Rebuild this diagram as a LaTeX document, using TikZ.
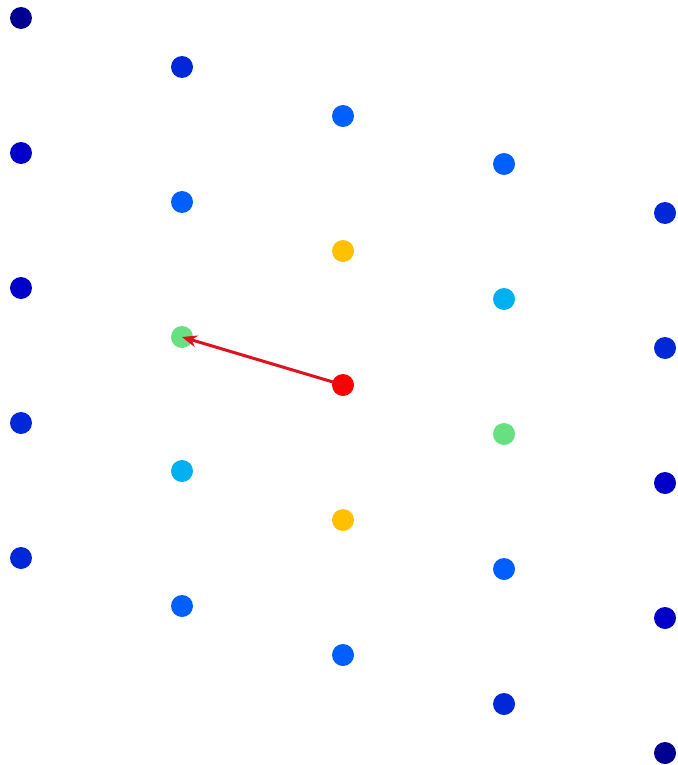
\documentclass[tikz,border=0pt]{standalone}
\usetikzlibrary{arrows.meta}
\definecolor{cnavy}{HTML}{000090}
\definecolor{cdeep}{HTML}{0000C8}
\definecolor{cmid}{HTML}{0028D8}
\definecolor{clight}{HTML}{0060FF}
\definecolor{ccyan}{HTML}{00B0F0}
\definecolor{cgreen}{HTML}{66E080}
\definecolor{cyellow}{HTML}{FFC000}
\definecolor{cred}{HTML}{FF0000}
\definecolor{carrow}{HTML}{E0101C}
\begin{document}
\begin{tikzpicture}[x=1pt,y=-1pt,
  dot/.style={circle,inner sep=0pt,minimum size=22pt,fill=#1,draw=none}]
\useasboundingbox (0,0) rectangle (677,765);
% column 0
\node[dot=cnavy] (a0) at (21,18) {};
\node[dot=cdeep] (a1) at (21,153) {};
\node[dot=cdeep] (a2) at (21,288) {};
\node[dot=cmid] (a3) at (21,423) {};
\node[dot=cmid] (a4) at (21,558) {};
% column 1
\node[dot=cmid] (b0) at (182,67) {};
\node[dot=clight] (b1) at (182,202) {};
\node[dot=cgreen] (b2) at (182,337) {};
\node[dot=ccyan] (b3) at (182,471) {};
\node[dot=clight] (b4) at (182,606) {};
% column 2
\node[dot=clight] (c0) at (343,116) {};
\node[dot=cyellow] (c1) at (343,251) {};
\node[dot=cred] (c2) at (343,385) {};
\node[dot=cyellow] (c3) at (343,520) {};
\node[dot=clight] (c4) at (343,655) {};
% column 3
\node[dot=clight] (d0) at (504,164) {};
\node[dot=ccyan] (d1) at (504,299) {};
\node[dot=cgreen] (d2) at (504,434) {};
\node[dot=clight] (d3) at (504,569) {};
\node[dot=cmid] (d4) at (504,704) {};
% column 4
\node[dot=cmid] (e0) at (665,213) {};
\node[dot=cmid] (e1) at (665,348) {};
\node[dot=cdeep] (e2) at (665,483) {};
\node[dot=cdeep] (e3) at (665,618) {};
\node[dot=cnavy] (e4) at (665,753) {};
% arrow
\draw[carrow,line width=3pt,-{Stealth[length=15pt,width=12pt]}] (c2.center) -- (b2.center);
\end{tikzpicture}
\end{document}
